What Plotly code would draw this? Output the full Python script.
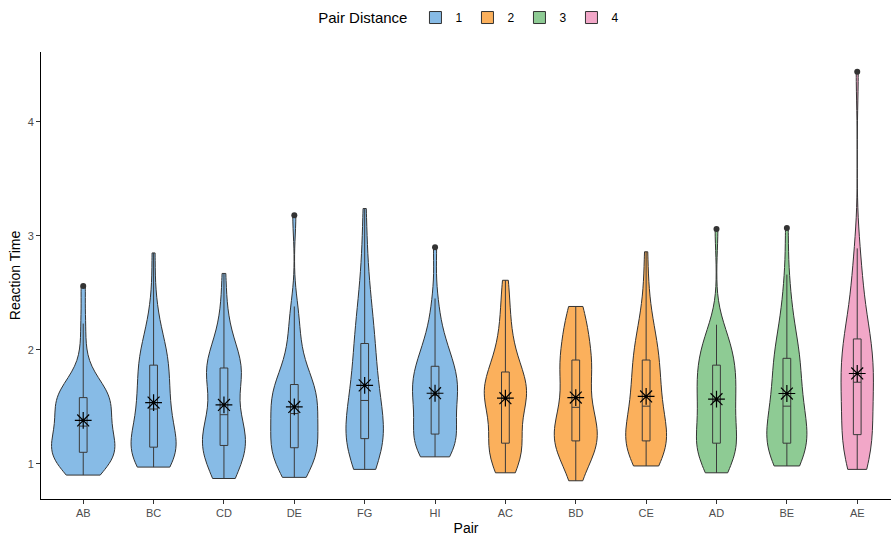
import numpy as np
import plotly.graph_objects as go

# ---- data ----
categories = ["AB", "BC", "CD", "DE", "FG", "HI", "AC", "BD", "CE", "AD", "BE", "AE"]
pair_distance = [1, 1, 1, 1, 1, 1, 2, 2, 2, 3, 3, 4]

ab = [0.90, 0.93, 0.96, 0.99, 1.01, 1.03, 1.05, 1.06, 1.08, 1.09,
      1.11, 1.13, 1.15, 1.17, 1.19, 1.21, 1.23, 1.26, 1.29, 1.32,
      1.34, 1.37, 1.40, 1.43, 1.46, 1.49, 1.51, 1.53, 1.55, 1.57,
      1.59, 1.61, 1.63, 1.65, 1.68, 1.71, 1.76, 1.95, 2.23, 2.56]
bc = [0.97, 0.99, 1.01, 1.03, 1.05, 1.07, 1.09, 1.11, 1.12, 1.14,
      1.15, 1.16, 1.18, 1.20, 1.23, 1.27, 1.32, 1.37, 1.42, 1.47,
      1.49, 1.51, 1.54, 1.58, 1.62, 1.67, 1.72, 1.77, 1.81, 1.85,
      1.88, 1.91, 1.94, 1.98, 2.03, 2.09, 2.16, 2.26, 2.45, 2.85]
cd = [0.87, 0.89, 0.92, 0.96, 1.00, 1.04, 1.08, 1.11, 1.13, 1.15,
      1.17, 1.19, 1.21, 1.23, 1.25, 1.27, 1.30, 1.34, 1.38, 1.42,
      1.44, 1.50, 1.57, 1.64, 1.70, 1.74, 1.77, 1.79, 1.81, 1.83,
      1.85, 1.87, 1.90, 1.93, 1.97, 2.03, 2.12, 2.20, 2.38, 2.67]
de = [0.88, 0.91, 0.95, 0.99, 1.02, 1.05, 1.08, 1.10, 1.12, 1.13,
      1.15, 1.18, 1.21, 1.24, 1.28, 1.31, 1.34, 1.37, 1.40, 1.43,
      1.45, 1.48, 1.51, 1.54, 1.57, 1.60, 1.62, 1.64, 1.66, 1.68,
      1.71, 1.75, 1.80, 1.86, 1.93, 2.02, 2.14, 2.26, 2.38, 3.18]
fg = [0.95, 0.99, 1.03, 1.07, 1.10, 1.13, 1.15, 1.17, 1.19, 1.21,
      1.23, 1.26, 1.29, 1.32, 1.35, 1.38, 1.42, 1.46, 1.50, 1.54,
      1.57, 1.61, 1.65, 1.70, 1.75, 1.80, 1.86, 1.92, 1.98, 2.03,
      2.08, 2.14, 2.20, 2.27, 2.35, 2.44, 2.55, 2.70, 2.92, 3.24]
hi = [1.06, 1.08, 1.10, 1.13, 1.15, 1.17, 1.19, 1.21, 1.23, 1.25,
      1.27, 1.30, 1.33, 1.37, 1.42, 1.47, 1.51, 1.54, 1.57, 1.59,
      1.61, 1.63, 1.65, 1.67, 1.70, 1.73, 1.76, 1.79, 1.82, 1.84,
      1.87, 1.90, 1.94, 1.98, 2.03, 2.09, 2.16, 2.28, 2.45, 2.90]
ac = [0.92, 0.96, 1.00, 1.04, 1.07, 1.10, 1.12, 1.14, 1.15, 1.16,
      1.20, 1.25, 1.30, 1.36, 1.42, 1.47, 1.51, 1.54, 1.56, 1.57,
      1.58, 1.60, 1.62, 1.64, 1.66, 1.68, 1.71, 1.74, 1.77, 1.79,
      1.82, 1.86, 1.91, 1.97, 2.04, 2.12, 2.22, 2.34, 2.48, 2.61]
bd = [0.85, 0.95, 1.02, 1.07, 1.10, 1.13, 1.15, 1.17, 1.18, 1.19,
      1.21, 1.24, 1.27, 1.30, 1.33, 1.36, 1.39, 1.42, 1.45, 1.47,
      1.52, 1.58, 1.64, 1.70, 1.75, 1.79, 1.82, 1.85, 1.87, 1.89,
      1.93, 1.98, 2.03, 2.08, 2.13, 2.18, 2.23, 2.28, 2.33, 2.38]
ce = [0.98, 1.01, 1.04, 1.07, 1.10, 1.12, 1.14, 1.16, 1.18, 1.19,
      1.21, 1.23, 1.25, 1.28, 1.31, 1.34, 1.37, 1.41, 1.45, 1.49,
      1.52, 1.56, 1.60, 1.64, 1.68, 1.72, 1.76, 1.80, 1.85, 1.89,
      1.93, 1.97, 2.01, 2.06, 2.11, 2.17, 2.25, 2.36, 2.55, 2.86]
ad = [0.92, 0.96, 1.00, 1.04, 1.07, 1.10, 1.12, 1.14, 1.16, 1.17,
      1.19, 1.22, 1.26, 1.30, 1.34, 1.38, 1.42, 1.46, 1.50, 1.54,
      1.56, 1.59, 1.62, 1.65, 1.68, 1.72, 1.76, 1.79, 1.82, 1.85,
      1.88, 1.91, 1.94, 1.98, 2.02, 2.06, 2.10, 2.15, 2.22, 3.06]
be = [0.98, 1.02, 1.06, 1.09, 1.11, 1.13, 1.14, 1.15, 1.16, 1.17,
      1.19, 1.22, 1.25, 1.29, 1.33, 1.37, 1.41, 1.44, 1.47, 1.49,
      1.52, 1.56, 1.60, 1.65, 1.70, 1.75, 1.80, 1.84, 1.88, 1.91,
      1.94, 1.98, 2.03, 2.09, 2.16, 2.24, 2.33, 2.46, 2.66, 3.07]
ae = [0.95, 0.99, 1.03, 1.07, 1.11, 1.14, 1.17, 1.19, 1.21, 1.23,
      1.28, 1.34, 1.40, 1.46, 1.51, 1.56, 1.60, 1.64, 1.67, 1.70,
      1.73, 1.77, 1.81, 1.85, 1.89, 1.93, 1.97, 2.01, 2.04, 2.07,
      2.12, 2.17, 2.23, 2.30, 2.38, 2.48, 2.60, 2.74, 2.89, 4.44]

samples = [ab, bc, cd, de, fg, hi, ac, bd, ce, ad, be, ae]

# style: maximum violin width of each category (category-axis units)
violin_widths = [0.90, 0.64, 0.61, 0.67, 0.53, 0.64, 0.60, 0.61, 0.58, 0.57, 0.57, 0.46]

fill_colors = {1: "#87BBE6", 2: "#FBB05C", 3: "#8ECB94", 4: "#F2A7C8"}
FONT = "Liberation Sans, Arial, sans-serif"


def bw_nrd0(v):
    v = np.asarray(v, dtype=float)
    sd = v.std(ddof=1)
    q1, q3 = np.percentile(v, [25, 75])
    lo = min(sd, (q3 - q1) / 1.34)
    return 0.9 * lo * len(v) ** -0.2


fig = go.Figure()
seen = set()
for cat, grp, vals, w in zip(categories, pair_distance, samples, violin_widths):
    fig.add_trace(go.Violin(
        x=[cat] * len(vals), y=vals,
        name=str(grp), legendgroup=str(grp), showlegend=grp not in seen,
        fillcolor=fill_colors[grp], line=dict(color="#333333", width=1),
        opacity=1, spanmode="hard", width=w, scalegroup=cat, scalemode="width",
        bandwidth=bw_nrd0(vals), points=False,
        box_visible=False, meanline_visible=False, hoverinfo="skip",
    ))
    seen.add(grp)

for cat, grp, vals in zip(categories, pair_distance, samples):
    fig.add_trace(go.Box(
        x=[cat] * len(vals), y=vals, width=0.11,
        fillcolor="rgba(0,0,0,0)", line=dict(color="#3a3a3a", width=1),
        whiskerwidth=0, boxpoints="outliers", pointpos=0, jitter=0,
        marker=dict(color="#333333", size=6), showlegend=False,
        legendgroup=str(grp), hoverinfo="skip",
    ))

means = [float(np.mean(v)) for v in samples]
fig.add_trace(go.Scatter(
    x=categories, y=means, mode="markers", showlegend=False,
    marker=dict(symbol="asterisk-open", size=14, color="black",
                line=dict(color="black", width=1.2)),
    hoverinfo="skip",
))

axis_common = dict(
    showline=True, linecolor="black", linewidth=1, mirror=False,
    ticks="outside", ticklen=4, tickcolor="#333333", tickwidth=1,
    tickfont=dict(family=FONT, size=11, color="#4D4D4D"),
    showgrid=False, zeroline=False,
)

fig.update_layout(
    width=891, height=544,
    margin=dict(l=41, r=0, t=52, b=45),
    paper_bgcolor="white", plot_bgcolor="white",
    violinmode="overlay", boxmode="overlay", violingap=0, violingroupgap=0,
    font=dict(family=FONT, color="black"),
    xaxis=dict(
        **axis_common, type="category", categoryorder="array",
        categoryarray=categories, range=[-0.6, 11.48],
        title=dict(text="Pair", font=dict(family=FONT, size=14, color="black"), standoff=4),
    ),
    yaxis=dict(
        **axis_common, range=[0.69, 4.614], tickvals=[1, 2, 3, 4],
        title=dict(text="Reaction Time", font=dict(family=FONT, size=14, color="black"), standoff=3),
    ),
    legend=dict(
        orientation="h", x=0.505, xanchor="center", y=1.076, yanchor="middle",
        title=dict(text="Pair Distance", font=dict(family=FONT, size=15, color="black"), side="left"),
        font=dict(family=FONT, size=12, color="black"), itemwidth=30,
    ),
)

fig.write_html("out.html")
